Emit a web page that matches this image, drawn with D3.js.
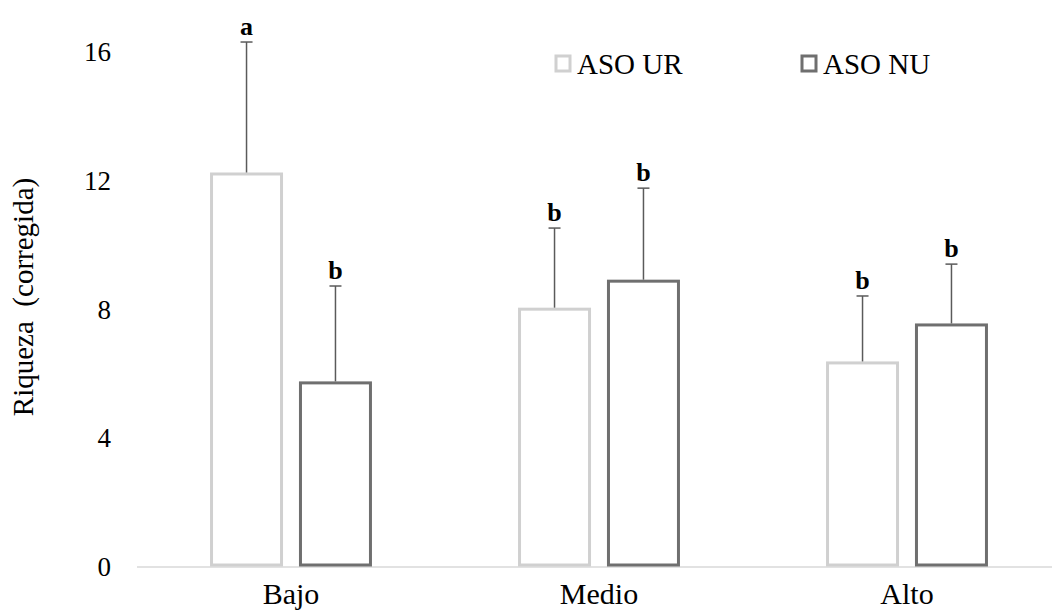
<!DOCTYPE html>
<html>
<head>
<meta charset="utf-8">
<script src="https://cdn.jsdelivr.net/npm/d3@7"></script>
<style>
  html, body { margin: 0; padding: 0; background: #ffffff; }
  svg { display: block; }
  text { font-family: "Liberation Serif", "Times New Roman", serif; fill: #000; }
</style>
</head>
<body>
<svg id="chart" width="1052" height="615"></svg>
<script>
// Richness (corrected) by disturbance level, two site types
const categories = ["Bajo", "Medio", "Alto"];
const seriesNames = ["ASO UR", "ASO NU"];
const meanUR = [12.21, 8.01, 6.34];
const meanNU = [5.72, 8.88, 7.52];
const upperUR = [16.31, 10.53, 8.42];   // mean + error
const upperNU = [8.73, 11.77, 9.41];
const lettersUR = ["a", "b", "b"];
const lettersNU = ["b", "b", "b"];
const yTicks = [0, 4, 8, 12, 16];

const strokeColors = { "ASO UR": "#d0d0d0", "ASO NU": "#6f6f6f" };

const rows = [];
categories.forEach((c, i) => {
  rows.push({ cat: c, series: "ASO UR", mean: meanUR[i], upper: upperUR[i], letter: lettersUR[i] });
  rows.push({ cat: c, series: "ASO NU", mean: meanNU[i], upper: upperNU[i], letter: lettersNU[i] });
});

const svg = d3.select("#chart");

const x0 = d3.scaleBand().domain(categories).range([137, 1061])
  .paddingInner(0.484).paddingOuter(0.242);
const x1 = d3.scaleBand().domain(seriesNames).range([0, x0.bandwidth()])
  .paddingInner(0.213).paddingOuter(0);
const y = d3.scaleLinear().domain([0, 16]).range([567, 52]);

// baseline
svg.append("line")
  .attr("x1", 137).attr("x2", 1052)
  .attr("y1", y(0)).attr("y2", y(0))
  .attr("stroke", "#d9d9d9").attr("stroke-width", 1.5);

// y axis labels (no axis line, no ticks)
const yAxis = svg.append("g")
  .attr("transform", "translate(118,0)")
  .call(d3.axisLeft(y).tickValues(yTicks).tickSize(0).tickPadding(7).tickFormat(d3.format("d")));
yAxis.select(".domain").remove();
yAxis.selectAll("text")
  .style("font-family", "'Liberation Serif', 'Times New Roman', serif")
  .style("font-size", "27px").attr("fill", "#000");

// x axis labels
const xAxis = svg.append("g")
  .attr("transform", `translate(0,${y(0)})`)
  .call(d3.axisBottom(x0).tickSize(0).tickPadding(16));
xAxis.select(".domain").remove();
xAxis.selectAll("text")
  .style("font-family", "'Liberation Serif', 'Times New Roman', serif")
  .style("font-size", "30px").attr("fill", "#000");

// bars
const groups = svg.append("g").selectAll("g")
  .data(rows).join("g")
  .attr("transform", d => `translate(${x0(d.cat) + x1(d.series)},0)`);

groups.append("rect")
  .attr("x", 0)
  .attr("width", x1.bandwidth())
  .attr("y", d => y(d.mean))
  .attr("height", d => y(0) - 2 - y(d.mean))
  .attr("fill", "#ffffff")
  .attr("stroke", d => strokeColors[d.series])
  .attr("stroke-width", 3);

// upper error bars
const cx = x1.bandwidth() / 2;
groups.append("line")
  .attr("x1", cx).attr("x2", cx)
  .attr("y1", d => y(d.mean) - 1.5).attr("y2", d => y(d.upper))
  .attr("stroke", "#5a5a5a").attr("stroke-width", 1.5);
groups.append("line")
  .attr("x1", cx - 6).attr("x2", cx + 6)
  .attr("y1", d => y(d.upper)).attr("y2", d => y(d.upper))
  .attr("stroke", "#5a5a5a").attr("stroke-width", 1.5);

// significance letters
groups.append("text")
  .attr("x", cx)
  .attr("y", d => y(d.upper) - 7)
  .attr("text-anchor", "middle")
  .style("font-size", "26px")
  .style("font-weight", "bold")
  .text(d => d.letter);

// y axis title
svg.append("text")
  .attr("transform", "translate(33,297) rotate(-90)")
  .attr("text-anchor", "middle")
  .style("font-size", "29px")
  .style("white-space", "pre")
  .text("Riqueza  (corregida)");

// legend
const legendPos = [{ sx: 556, tx: 577 }, { sx: 802, tx: 823 }];
const legend = svg.append("g").selectAll("g")
  .data(seriesNames).join("g");
legend.append("rect")
  .attr("x", (d, i) => legendPos[i].sx)
  .attr("y", 56)
  .attr("width", 14).attr("height", 15)
  .attr("fill", "#ffffff")
  .attr("stroke", d => strokeColors[d])
  .attr("stroke-width", 3);
legend.append("text")
  .attr("x", (d, i) => legendPos[i].tx)
  .attr("y", 74)
  .style("font-size", "29px")
  .text(d => d);
</script>
</body>
</html>
